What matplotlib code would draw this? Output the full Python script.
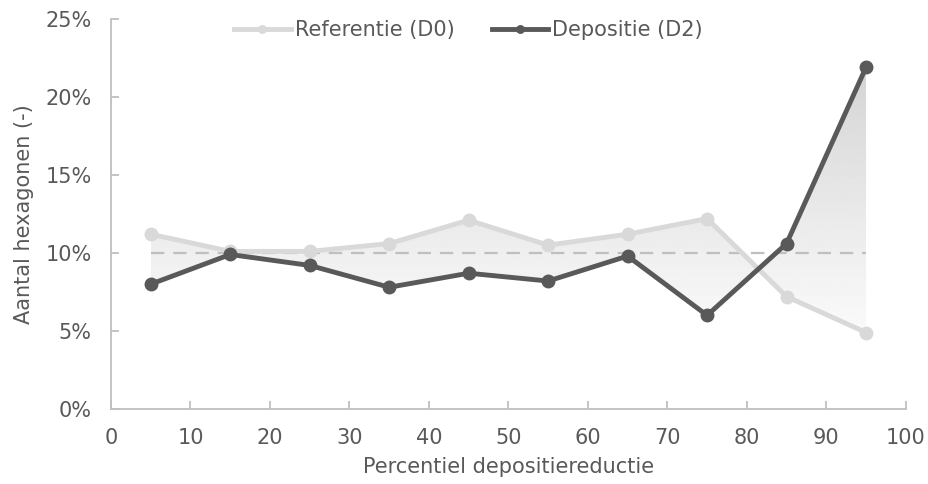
import numpy as np
import matplotlib.pyplot as plt
from matplotlib.ticker import FuncFormatter

percentiel = [5, 15, 25, 35, 45, 55, 65, 75, 85, 95]
referentie = [11.2, 10.1, 10.1, 10.6, 12.1, 10.5, 11.2, 12.2, 7.2, 4.9]
depositie = [8.0, 9.9, 9.2, 7.8, 8.7, 8.2, 9.8, 6.0, 10.6, 21.9]
gemiddeld = 10.0

tekst = "#595959"
as_kleur = "#bfbfbf"
fs = 15

plt.rcParams['font.family'] = ['DejaVu Sans']
plt.rcParams['font.size'] = fs

fig = plt.figure(figsize=(9.29, 4.84), dpi=100)
ax = fig.add_axes([0.1195, 0.155, 0.8555, 0.806])

# gevulde band met verloop tussen de twee lijnen
band = ax.fill_between(percentiel, referentie, depositie, facecolor="none", edgecolor="none")
grad = np.linspace(0.985, 0.83, 256).reshape(-1, 1)
im = ax.imshow(grad, cmap="gray", vmin=0, vmax=1, aspect="auto", origin="lower",
               extent=[5, 95, 4.5, 22.2], zorder=1, interpolation="bilinear")
im.set_clip_path(band.get_paths()[0], transform=ax.transData)

ax.plot([percentiel[0], percentiel[-1]], [gemiddeld, gemiddeld], color=as_kleur,
        lw=1.6, dashes=(6, 4), zorder=2)

ax.plot(percentiel, referentie, color="#d9d9d9", lw=3.5, marker="o", ms=9,
        label="Referentie (D0)", zorder=3)
ax.plot(percentiel, depositie, color="#595959", lw=3.5, marker="o", ms=9,
        label="Depositie (D2)", zorder=4)

ax.set_xlim(0, 100)
ax.set_ylim(0, 25)
ax.set_xticks(np.arange(0, 101, 10))
ax.set_yticks(np.arange(0, 26, 5))
ax.yaxis.set_major_formatter(FuncFormatter(lambda v, p: f"{v:.0f}%"))

for s in ["top", "right"]:
    ax.spines[s].set_visible(False)
for s in ["left", "bottom"]:
    ax.spines[s].set_color(as_kleur)
    ax.spines[s].set_linewidth(1.3)
ax.tick_params(direction="in", length=6, color=as_kleur, width=1.3,
               labelcolor=tekst, labelsize=fs, pad=14)

ax.set_xlabel("Percentiel depositiereductie", color=tekst, fontsize=fs, labelpad=6)
ax.set_ylabel("Aantal hexagonen (-)", color=tekst, fontsize=fs, labelpad=8)

leg = ax.legend(loc="upper center", bbox_to_anchor=(0.45, 1.045), ncol=2, frameon=False,
                fontsize=fs, handlelength=2.7, handletextpad=0.2, columnspacing=1.8,
                markerscale=0.6)
for t in leg.get_texts():
    t.set_color(tekst)

plt.savefig("out.png", dpi=100)
